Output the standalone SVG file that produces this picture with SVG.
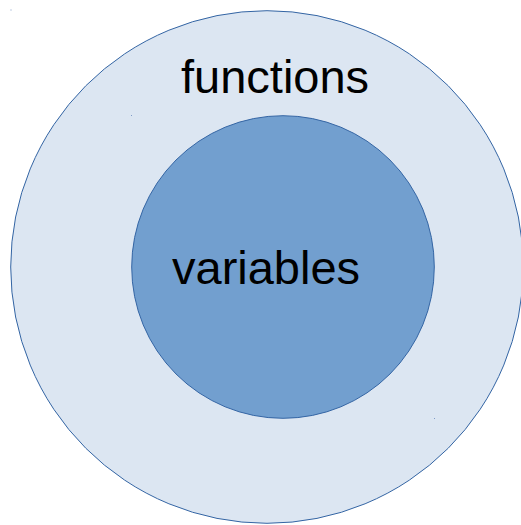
<svg xmlns="http://www.w3.org/2000/svg" width="521" height="525" viewBox="0 0 521 525">
<style>
.lbl{font-family:"Liberation Sans",Arial,sans-serif;font-size:47px;fill:#000}
.dot{fill:#7f9cc7}
</style>
<rect width="521" height="525" fill="#ffffff"/>
<g id="functions">
<circle cx="267" cy="267" r="256.3" fill="#dce6f2" stroke="#3465a4" stroke-width="1"/>
<text class="lbl" x="181" y="93">functions</text>
</g>
<g id="variables">
<circle cx="283" cy="267" r="151.3" fill="#729fcf" stroke="#3465a4" stroke-width="1"/>
<text class="lbl" x="172" y="284">variables</text>
</g>
<g id="connectors"></g>
<rect class="dot" x="10.5" y="9.5" width="1" height="1"/>
<rect class="dot" x="131" y="115" width="1" height="1"/>
<rect class="dot" x="434" y="418" width="1" height="1"/>
</svg>
